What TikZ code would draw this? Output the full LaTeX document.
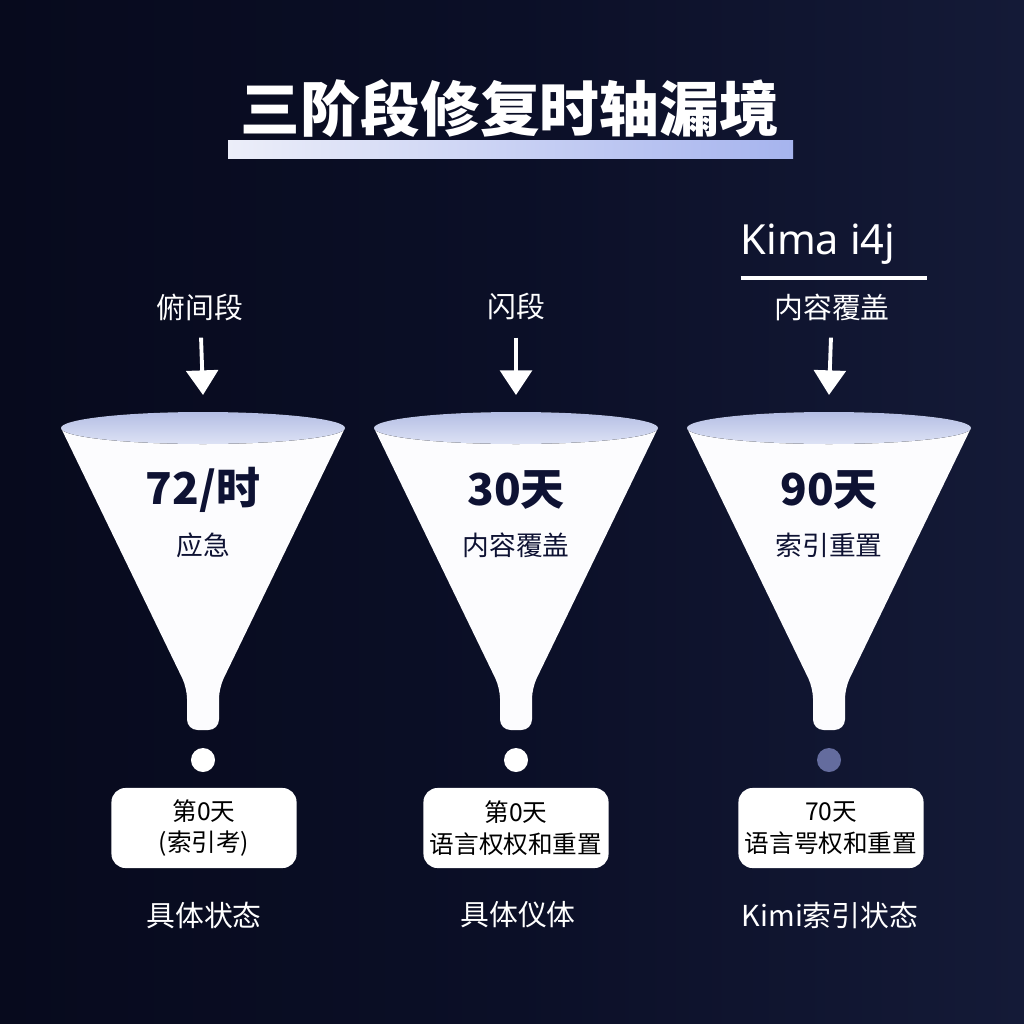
\documentclass[tikz,border=0pt]{standalone}
\usepackage{fontspec}
\setmainfont{Noto Sans CJK SC}
\newfontfamily\latinfont{Noto Sans}
\usetikzlibrary{arrows.meta,positioning}

\definecolor{bgdark}{HTML}{070A1D}
\definecolor{bgmid}{HTML}{0B0F27}
\definecolor{bglight}{HTML}{141A37}
\definecolor{inknavy}{HTML}{0E1233}
\definecolor{rimtop}{HTML}{B4BEE4}
\definecolor{rimlow}{HTML}{DDE2F5}
\definecolor{barleft}{HTML}{ECEEF9}
\definecolor{barright}{HTML}{A6B4EE}
\definecolor{dimdot}{HTML}{646C9E}

\begin{document}
\begin{tikzpicture}[
            x = 0.01cm, y = -0.01cm, % one unit = one pixel, y going down
            > = {Triangle[width=9pt,length=7pt]}, % arrow head style
            shorten < = 1pt,
            line width = 1.1pt,
            title/.style = {text=white, font=\fontsize{17pt}{20pt}\selectfont\bfseries},
            label/.style = {text=white, font=\fontsize{8.2pt}{10pt}\selectfont},
            big/.style = {text=inknavy, font=\fontsize{12.5pt}{14pt}\selectfont\bfseries},
            sub/.style = {text=inknavy, font=\fontsize{7.6pt}{9pt}\selectfont},
            daybox/.style = {fill=white, rounded corners=4pt, minimum width=1.85cm,
                             minimum height=0.8cm, align=center, text=black, inner sep=1pt,
                             font=\fontsize{7pt}{9pt}\selectfont},
            dot/.style = {circle, fill=white, minimum size=0.24cm, inner sep=0pt},
            funnel/.style = {fill=white!96!rimtop},
            rim/.style = {top color=rimtop, bottom color=rimlow}
        ]
% background
\fill[left color=bgdark, right color=bglight, middle color=bgmid] (0,0) rectangle (1024,1024);
\useasboundingbox (0,0) rectangle (1024,1024);

% title and bar
\fill[left color=barleft, right color=barright] (228,140) rectangle (793,158);
\node[title] (T) at (510,108) {三阶段修复时轴漏境};

% funnels
\foreach \cx in {203,516,829}{
  \fill[funnel] (\cx-142,428) [rounded corners=3pt] -- (\cx-16,688) -- (\cx-16,730)
        -- (\cx+16,730) -- (\cx+16,688) [sharp corners] -- (\cx+142,428) -- cycle;
  \fill[rim] (\cx,428) ellipse [x radius=142, y radius=16];
}

% stage labels on top
\node[text=white, font=\latinfont\fontsize{11.8pt}{13pt}\selectfont] (K) at (818,244) {Kima i4j};
\coordinate (U1) at (737,278);
\coordinate (U2) at (927,278);
\draw[white] (U1) -- (U2);

\node[label] (A1) at (200,307) {俯间段};
\node[label] (A2) at (516,307) {闪段};
\node[label] (A3) at (832,307) {内容覆盖};

\coordinate (R1) at (203,395);
\coordinate (R2) at (516,395);
\coordinate (R3) at (829,395);

\path [->, white] (A1) edge (R1);
\path [->, white] (A2) edge (R2);
\path [->, white] (A3) edge (R3);

% text in the funnels
\node[big] (N1) at (203,490) {72/时};
\node[sub] (S1) at (203,545) {应急};
\node[big] (N2) at (516,490) {30天};
\node[sub] (S2) at (516,545) {内容覆盖};
\node[big] (N3) at (829,490) {90天};
\node[sub] (S3) at (829,545) {索引重置};

% drops
\node[dot] (D1) at (203,760) {};
\node[dot] (D2) at (516,760) {};
\node[dot, fill=dimdot] (D3) at (829,760) {};

% day boxes
\node[daybox] (B1) at (204,828) {第0天\\(索引考)};
\node[daybox] (B2) at (516,828) {第0天\\语言权权和重置};
\node[daybox] (B3) at (831,828) {70天\\语言咢权和重置};

% bottom labels
\node[label] (C1) at (204,915) {具体状态};
\node[label] (C2) at (518,915) {具体仪体};
\node[label] (C3) at (830,915) {Kimi索引状态};
\end{tikzpicture}
\end{document}
